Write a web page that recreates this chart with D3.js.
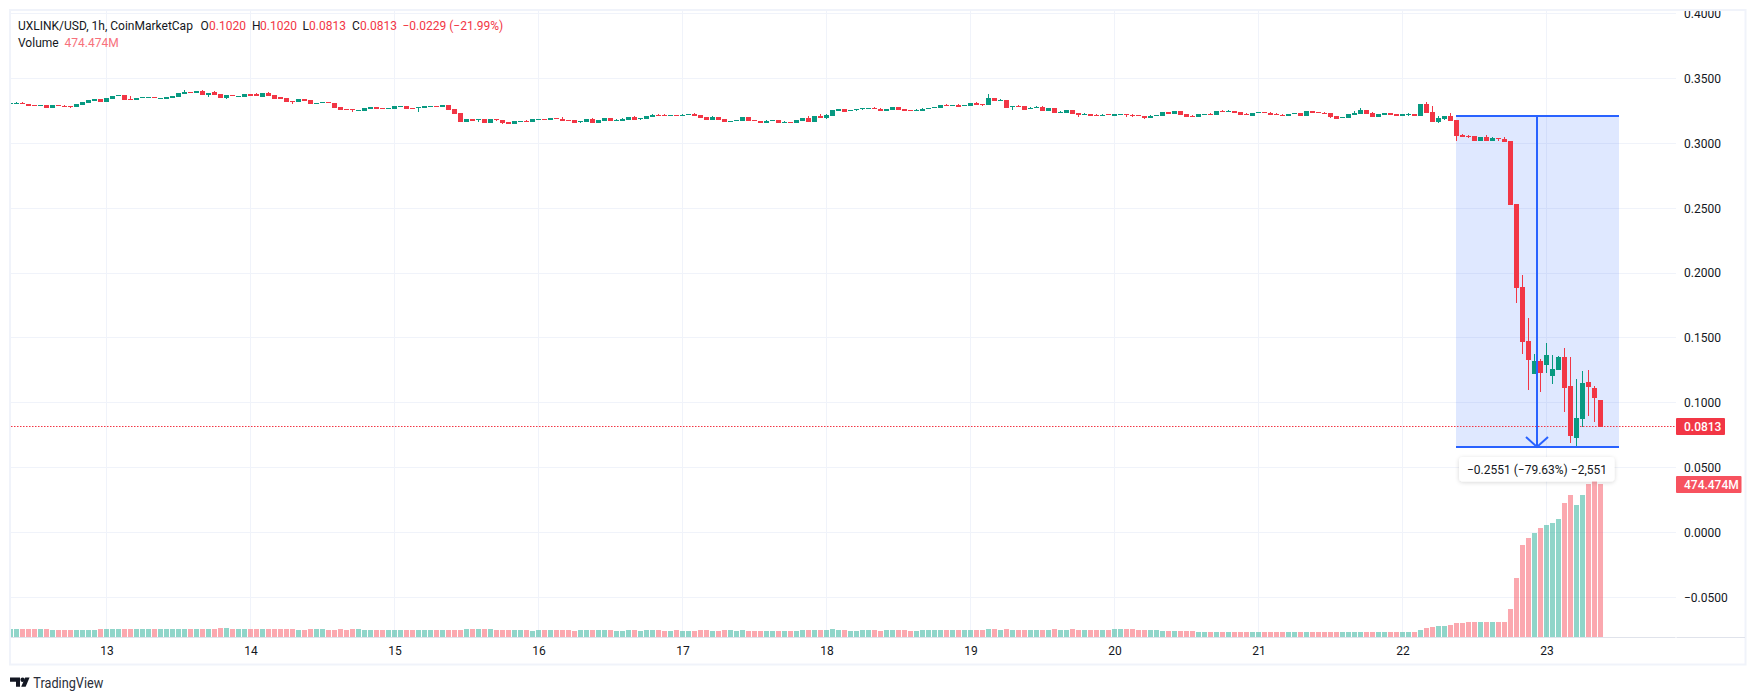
<!DOCTYPE html>
<html>
<head>
<meta charset="utf-8">
<script src="https://cdn.jsdelivr.net/npm/d3@7/dist/d3.min.js"></script>
<style>
html,body{margin:0;padding:0;background:#fff;}
svg{display:block;}
text{font-family:Roboto,"Liberation Sans",sans-serif;}
</style>
</head>
<body>
<svg width="1756" height="700"></svg>
<script>
// one candle per hour, 12 -> 23
var opens = [
.3304,.3304,.3312,.3304,.3297,.3289,.3297,.3273,.3297,.3289,
.3289,.3281,.3297,.3312,.3327,.3343,.3320,.3343,.3366,.3373,
.3343,.3335,.3350,.3350,.3358,.3343,.3343,.3350,.3358,.3381,
.3397,.3389,.3404,.3373,.3396,.3381,.3350,.3373,.3358,.3358,
.3381,.3381,.3358,.3389,.3373,.3358,.3350,.3327,.3320,.3343,
.3335,.3304,.3312,.3320,.3312,.3281,.3266,.3266,.3250,.3250,
.3266,.3281,.3273,.3266,.3266,.3281,.3289,.3273,.3273,.3273,
.3281,.3289,.3281,.3297,.3266,.3235,.3165,.3189,.3181,.3189,
.3158,.3189,.3181,.3165,.3150,.3165,.3173,.3165,.3181,.3189,
.3181,.3196,.3189,.3181,.3181,.3165,.3165,.3189,.3158,.3173,
.3196,.3173,.3173,.3181,.3204,.3189,.3189,.3204,.3219,.3219,
.3212,.3219,.3212,.3219,.3227,.3219,.3204,.3181,.3204,.3189,
.3165,.3173,.3173,.3204,.3181,.3173,.3158,.3173,.3181,.3158,
.3165,.3158,.3173,.3196,.3165,.3212,.3196,.3212,.3250,.3266,
.3250,.3258,.3266,.3266,.3273,.3266,.3250,.3258,.3281,.3266,
.3258,.3250,.3250,.3266,.3273,.3273,.3297,.3289,.3297,.3289,
.3289,.3312,.3304,.3297,.3350,.3327,.3335,.3281,.3289,.3289,
.3266,.3273,.3281,.3250,.3273,.3235,.3235,.3258,.3235,.3219,
.3227,.3219,.3212,.3227,.3212,.3219,.3227,.3219,.3219,.3212,
.3196,.3212,.3212,.3243,.3227,.3250,.3227,.3212,.3204,.3219,
.3227,.3219,.3250,.3243,.3250,.3243,.3227,.3212,.3235,.3243,
.3235,.3227,.3219,.3212,.3227,.3235,.3212,.3250,.3243,.3235,
.3235,.3212,.3196,.3196,.3219,.3227,.3258,.3235,.3204,.3219,
.3235,.3227,.3212,.3219,.3227,.3212,.3304,.3243,.3165,.3189,
.3212,.3181,.3065,.3057,.3057,.3019,.3050,.3019,.3042,.3034,
.3019,.2533,.1893,.1477,.1223,.1323,.1292,.1207,.1253,.1354,
.1130,.0729,.0876,.1161,.1114,.1020];
var closes = [
.3312,.3312,.3304,.3289,.3289,.3297,.3273,.3297,.3289,.3281,
.3281,.3304,.3320,.3335,.3343,.3320,.3350,.3366,.3373,.3335,
.3335,.3350,.3358,.3358,.3350,.3350,.3358,.3366,.3389,.3396,
.3389,.3404,.3373,.3389,.3373,.3350,.3373,.3366,.3366,.3381,
.3366,.3366,.3389,.3366,.3343,.3343,.3320,.3320,.3343,.3327,
.3304,.3312,.3320,.3312,.3273,.3258,.3258,.3258,.3258,.3273,
.3281,.3266,.3266,.3273,.3289,.3289,.3266,.3266,.3281,.3289,
.3289,.3281,.3297,.3258,.3227,.3165,.3189,.3173,.3189,.3158,
.3189,.3181,.3158,.3150,.3173,.3173,.3165,.3189,.3189,.3181,
.3196,.3189,.3173,.3173,.3158,.3173,.3189,.3158,.3181,.3196,
.3173,.3181,.3189,.3204,.3181,.3196,.3212,.3219,.3212,.3212,
.3219,.3212,.3219,.3227,.3212,.3196,.3181,.3204,.3181,.3165,
.3173,.3181,.3204,.3173,.3173,.3158,.3173,.3181,.3158,.3165,
.3158,.3181,.3196,.3165,.3212,.3196,.3219,.3258,.3266,.3243,
.3258,.3266,.3273,.3273,.3266,.3250,.3266,.3281,.3258,.3250,
.3250,.3258,.3266,.3273,.3281,.3297,.3289,.3297,.3281,.3297,
.3312,.3297,.3297,.3350,.3327,.3335,.3273,.3289,.3281,.3258,
.3273,.3281,.3250,.3273,.3235,.3243,.3258,.3227,.3219,.3227,
.3212,.3212,.3219,.3219,.3227,.3227,.3219,.3212,.3212,.3196,
.3212,.3219,.3243,.3227,.3250,.3219,.3204,.3204,.3227,.3227,
.3219,.3250,.3243,.3250,.3235,.3219,.3219,.3235,.3243,.3235,
.3219,.3219,.3212,.3227,.3235,.3212,.3250,.3235,.3235,.3227,
.3204,.3189,.3204,.3227,.3235,.3258,.3227,.3204,.3227,.3235,
.3219,.3212,.3227,.3227,.3212,.3304,.3235,.3165,.3196,.3212,
.3173,.3057,.3050,.3050,.3019,.3050,.3019,.3042,.3034,.3011,
.2525,.1886,.1469,.1331,.1323,.1230,.1369,.1261,.1354,.1114,
.0744,.0883,.1153,.1122,.1037,.0813];
var highs = [
.3312,.3320,.3320,.3304,.3297,.3297,.3297,.3297,.3297,.3297,
.3289,.3304,.3320,.3335,.3343,.3343,.3350,.3366,.3373,.3373,
.3366,.3350,.3358,.3358,.3358,.3350,.3358,.3366,.3389,.3412,
.3397,.3404,.3412,.3389,.3404,.3381,.3373,.3373,.3366,.3381,
.3381,.3389,.3389,.3396,.3373,.3358,.3350,.3327,.3343,.3343,
.3335,.3312,.3320,.3320,.3312,.3281,.3266,.3266,.3258,.3273,
.3281,.3281,.3273,.3273,.3289,.3289,.3289,.3273,.3281,.3289,
.3289,.3289,.3297,.3297,.3266,.3235,.3189,.3189,.3189,.3189,
.3189,.3189,.3181,.3165,.3173,.3173,.3181,.3189,.3189,.3189,
.3196,.3196,.3204,.3181,.3181,.3173,.3189,.3196,.3181,.3196,
.3196,.3189,.3196,.3204,.3212,.3196,.3212,.3227,.3227,.3227,
.3219,.3219,.3227,.3227,.3235,.3219,.3204,.3212,.3204,.3189,
.3173,.3181,.3204,.3204,.3181,.3173,.3181,.3181,.3181,.3173,
.3165,.3181,.3196,.3212,.3212,.3227,.3227,.3258,.3266,.3266,
.3258,.3266,.3273,.3273,.3281,.3273,.3266,.3281,.3281,.3266,
.3258,.3266,.3273,.3273,.3281,.3297,.3304,.3297,.3304,.3297,
.3312,.3320,.3304,.3381,.3350,.3343,.3335,.3289,.3297,.3289,
.3281,.3289,.3289,.3273,.3273,.3250,.3258,.3258,.3235,.3235,
.3227,.3227,.3227,.3227,.3227,.3227,.3227,.3227,.3219,.3212,
.3219,.3219,.3243,.3243,.3250,.3250,.3227,.3219,.3227,.3227,
.3235,.3250,.3258,.3258,.3250,.3243,.3235,.3235,.3243,.3243,
.3243,.3235,.3227,.3227,.3235,.3235,.3250,.3250,.3243,.3243,
.3235,.3212,.3204,.3227,.3250,.3273,.3258,.3243,.3227,.3235,
.3235,.3227,.3227,.3235,.3227,.3304,.3320,.3289,.3212,.3212,
.3235,.3181,.3073,.3065,.3057,.3050,.3065,.3050,.3042,.3050,
.3019,.2533,.1986,.1654,.1377,.1338,.1462,.1369,.1361,.1423,
.1354,.1184,.1246,.1253,.1130,.1020];
var lows = [
.3304,.3304,.3304,.3289,.3289,.3289,.3273,.3273,.3289,.3281,
.3273,.3281,.3297,.3312,.3327,.3320,.3320,.3343,.3366,.3335,
.3335,.3335,.3350,.3350,.3350,.3343,.3343,.3350,.3358,.3381,
.3389,.3389,.3373,.3358,.3373,.3350,.3343,.3366,.3358,.3358,
.3366,.3366,.3358,.3366,.3343,.3343,.3320,.3304,.3320,.3327,
.3304,.3304,.3312,.3312,.3273,.3258,.3258,.3243,.3250,.3250,
.3266,.3266,.3266,.3266,.3266,.3281,.3266,.3266,.3243,.3273,
.3281,.3281,.3281,.3258,.3227,.3165,.3165,.3173,.3165,.3158,
.3158,.3173,.3150,.3150,.3150,.3165,.3165,.3165,.3181,.3181,
.3181,.3189,.3173,.3173,.3158,.3155,.3165,.3158,.3158,.3173,
.3173,.3173,.3173,.3181,.3181,.3181,.3189,.3204,.3212,.3212,
.3212,.3212,.3212,.3219,.3212,.3196,.3181,.3181,.3181,.3165,
.3165,.3173,.3173,.3173,.3173,.3158,.3158,.3173,.3158,.3158,
.3158,.3158,.3173,.3165,.3165,.3196,.3189,.3212,.3250,.3243,
.3250,.3250,.3258,.3266,.3266,.3250,.3250,.3258,.3258,.3250,
.3250,.3250,.3250,.3266,.3273,.3273,.3289,.3289,.3281,.3289,
.3289,.3297,.3292,.3297,.3327,.3327,.3273,.3258,.3281,.3258,
.3266,.3273,.3250,.3250,.3235,.3235,.3235,.3227,.3204,.3219,
.3212,.3212,.3212,.3219,.3212,.3219,.3204,.3204,.3212,.3189,
.3196,.3212,.3212,.3227,.3227,.3219,.3204,.3204,.3204,.3219,
.3219,.3219,.3243,.3243,.3235,.3219,.3219,.3212,.3235,.3235,
.3219,.3219,.3212,.3212,.3227,.3212,.3212,.3235,.3235,.3227,
.3196,.3189,.3196,.3196,.3219,.3227,.3227,.3204,.3204,.3219,
.3219,.3212,.3212,.3212,.3212,.3212,.3235,.3165,.3158,.3181,
.3173,.3019,.3050,.3042,.3019,.3019,.3019,.3019,.3019,.3011,
.2525,.1770,.1377,.1099,.1223,.1084,.1230,.1145,.1253,.0929,
.0690,.0657,.0814,.0899,.0852,.0813];
// volume, millions
var volumes = [
25,25,25,25,25,25,25,22,22,22,
22,22,22,22,22,25,25,25,25,25,
25,25,25,25,25,25,25,25,25,25,
25,25,25,25,25,28,28,25,25,25,
25,25,25,25,25,24,24,25,22,22,
25,25,25,22,22,25,22,25,25,22,
22,22,22,22,22,22,22,22,22,22,
22,22,22,22,22,22,25,25,25,25,
25,22,21,21,22,21,21,20,21,21,
21,21,22,21,20,21,21,22,21,21,
21,20,20,21,21,20,21,22,21,20,
20,21,20,20,20,21,21,20,20,21,
21,20,21,20,19,20,20,20,20,19,
20,19,21,21,22,21,21,24,23,22,
20,20,21,21,21,20,21,21,22,21,
20,20,21,21,21,22,21,21,21,22,
22,21,21,26,24,22,25,23,22,23,
22,22,23,23,24,22,23,24,23,22,
22,22,23,23,24,24,24,24,23,23,
22,21,20,19,18,19,19,18,17,17,
16,17,16,16,16,16,16,15,15,15,
15,15,15,15,14,15,16,15,15,14,
15,15,14,14,14,15,15,15,14,14,
14,14,14.5,14.5,14.5,20.7,26.9,30,33,33,
36,42.4,42.4,45.5,45.5,45.5,45.5,45.5,45.5,45.5,
85.8,182,284,306,322,337,346,353,365,415,
440,408,440,474,486,474.474];

var priceTicks = [0.4,0.35,0.3,0.25,0.2,0.15,0.1,0.05,0,-0.05];
var dayLabels = [13,14,15,16,17,18,19,20,21,22,23];
var dayStarts = [16,40,64,88,112,136,160,184,208,232,256];

var lastPrice = 0.0813, lastVolume = 474.474;
var measureTop = 0.3212, measureBottom = 0.0661;
var measureFrom = 241, measureTo = 268;

var up = "#089981", down = "#f23645", blue = "#2962ff", grid = "#f0f3fa", ink = "#131722";

var plotL = 11, plotR = 1676, plotT = 11, plotB = 637;

var x = d3.scaleLinear().domain([0,265]).range([10.5,1600.5]);
var y = d3.scaleLinear().domain([0.4,-0.05]).range([13.76,597.3]);
var v = d3.scaleLinear().domain([0,474.474]).range([637,484]);

var svg = d3.select("svg");
var defs = svg.append("defs");
defs.append("clipPath").attr("id","plot").append("rect")
  .attr("x",plotL).attr("y",plotT).attr("width",plotR-plotL).attr("height",plotB-plotT);
var shadow = defs.append("filter").attr("id","tipshadow")
  .attr("x","-10%").attr("y","-30%").attr("width","120%").attr("height","170%");
shadow.append("feDropShadow").attr("dx",0).attr("dy",1).attr("stdDeviation",2)
  .attr("flood-color","#000").attr("flood-opacity",0.16);

// frame
svg.append("rect").attr("x",10).attr("y",10).attr("width",1735.5).attr("height",654.5)
  .attr("fill","none").attr("stroke",grid).attr("stroke-width",2);

var plot = svg.append("g").attr("clip-path","url(#plot)");

// grid
plot.selectAll(".hgrid").data(priceTicks).enter().append("line")
  .attr("x1",plotL).attr("x2",plotR)
  .attr("y1",function(d){return Math.floor(y(d))+0.5;})
  .attr("y2",function(d){return Math.floor(y(d))+0.5;})
  .attr("stroke",grid).attr("stroke-width",1);
plot.selectAll(".vgrid").data(dayStarts).enter().append("line")
  .attr("x1",function(d){return x(d);}).attr("x2",function(d){return x(d);})
  .attr("y1",plotT).attr("y2",plotB)
  .attr("stroke",grid).attr("stroke-width",1);

// volume
plot.selectAll(".vol").data(volumes).enter().append("rect")
  .attr("x",function(d,i){return x(i)-2.5;})
  .attr("y",function(d){return Math.round(v(d));})
  .attr("width",5)
  .attr("height",function(d){return plotB-Math.round(v(d));})
  .attr("fill",function(d,i){return closes[i]>=opens[i]?"#22ab94":"#f7525f";})
  .attr("opacity",0.5)
  .attr("shape-rendering","crispEdges");

// measure box
var boxL = Math.floor(x(measureFrom)), boxR = Math.ceil(x(measureTo));
var boxT = Math.round(y(measureTop)), boxB = Math.round(y(measureBottom));
plot.append("rect")
  .attr("x",boxL).attr("y",boxT)
  .attr("width",boxR-boxL)
  .attr("height",boxB-boxT)
  .attr("fill",blue).attr("fill-opacity",0.15);

// last price line
plot.append("line").attr("x1",plotL).attr("x2",plotR)
  .attr("y1",Math.round(y(lastPrice))-0.5).attr("y2",Math.round(y(lastPrice))-0.5)
  .attr("stroke",down).attr("stroke-width",1).attr("stroke-dasharray","1.5 1.5");

// candles
var indexes = d3.range(opens.length);
plot.selectAll(".wick").data(indexes).enter().append("rect")
  .attr("x",function(i){return x(i)-0.5;})
  .attr("y",function(i){return Math.round(y(highs[i]));})
  .attr("width",1)
  .attr("height",function(i){return Math.max(1,Math.round(y(lows[i]))-Math.round(y(highs[i])));})
  .attr("fill",function(i){return closes[i]>=opens[i]?up:down;})
  .attr("shape-rendering","crispEdges");
plot.selectAll(".body").data(indexes).enter().append("rect")
  .attr("x",function(i){return x(i)-2.5;})
  .attr("y",function(i){return Math.round(y(Math.max(opens[i],closes[i])));})
  .attr("width",5)
  .attr("height",function(i){return Math.max(1,Math.round(y(Math.min(opens[i],closes[i])))-Math.round(y(Math.max(opens[i],closes[i]))));})
  .attr("fill",function(i){return closes[i]>=opens[i]?up:down;})
  .attr("shape-rendering","crispEdges");

// measure lines
var midX = Math.floor((boxL+boxR)/2);
var measure = plot.append("g").attr("stroke",blue).attr("stroke-width",2).attr("fill","none");
measure.append("line").attr("x1",boxL).attr("x2",boxR).attr("y1",boxT).attr("y2",boxT);
measure.append("line").attr("x1",boxL).attr("x2",boxR).attr("y1",boxB).attr("y2",boxB);
measure.append("line").attr("x1",midX).attr("x2",midX).attr("y1",boxT).attr("y2",boxB);
measure.append("path").attr("d",d3.line()([[midX-11,boxB-10],[midX,boxB],[midX+11,boxB-10]]));

// measure tooltip
plot.append("rect").attr("x",1459).attr("y",457).attr("width",155.5).attr("height",24.5).attr("rx",4)
  .attr("fill","#fff").attr("filter","url(#tipshadow)");
plot.append("text").attr("x",1537).attr("y",473.5).attr("text-anchor","middle")
  .attr("font-size",12).attr("fill",ink).text("\u22120.2551 (\u221279.63%) \u22122,551");

// axis separators
svg.append("line").attr("x1",plotL).attr("x2",plotR-0.5).attr("y1",637.5).attr("y2",637.5).attr("stroke","#e0e3eb");
svg.append("line").attr("x1",plotR+0.5).attr("x2",1745).attr("y1",637.5).attr("y2",637.5).attr("stroke","#e0e3eb");

// axes
var yAxis = d3.axisRight(y).tickValues(priceTicks).tickSize(0).tickPadding(8).tickFormat(d3.format(".4f"));
var yg = svg.append("g").attr("transform","translate("+plotR+",0)").call(yAxis);
yg.select(".domain").remove();
yg.selectAll("text").attr("font-family","Roboto").attr("font-size",12).attr("fill",ink);

var xAxis = d3.axisBottom(x).tickValues(dayStarts).tickSize(0).tickPadding(9)
  .tickFormat(function(d,i){return dayLabels[i];});
var xg = svg.append("g").attr("transform","translate(0,"+plotB+")").call(xAxis);
xg.select(".domain").remove();
xg.selectAll("text").attr("font-family","Roboto").attr("font-size",12).attr("fill",ink);

// white cover so the clipped 0.4000 label stops at the frame
svg.append("rect").attr("x",plotR).attr("y",0).attr("width",70).attr("height",9).attr("fill","#fff");
svg.append("rect").attr("x",plotR).attr("y",9).attr("width",69).attr("height",2).attr("fill",grid);

// price tags
svg.append("rect").attr("x",plotR).attr("y",418).attr("width",49).attr("height",17).attr("rx",1).attr("fill",down);
svg.append("text").attr("x",1684).attr("y",431).attr("font-size",12).attr("font-weight",500).attr("fill","#fff").text(d3.format(".4f")(lastPrice));
svg.append("rect").attr("x",plotR).attr("y",476).attr("width",65.5).attr("height",17).attr("rx",1).attr("fill","#f7525f");
svg.append("text").attr("x",1684).attr("y",489).attr("font-size",12).attr("font-weight",500).attr("fill","#fff").text(d3.format(".3f")(lastVolume)+"M");

// legend
var legend = [
  [18,"UXLINK/USD, 1h, CoinMarketCap",ink],
  [200.5,"O",ink],[209,"0.1020",down],
  [252,"H",ink],[260,"0.1020",down],
  [302.5,"L",ink],[309,"0.0813",down],
  [352,"C",ink],[360,"0.0813",down],
  [402.5,"\u22120.0229 (\u221221.99%)",down]
];
svg.selectAll(".legend").data(legend).enter().append("text")
  .attr("x",function(d){return d[0];}).attr("y",29.5)
  .attr("font-size",12).attr("fill",function(d){return d[2];})
  .text(function(d){return d[1];});
svg.append("text").attr("x",18).attr("y",46.5).attr("font-size",12).attr("fill",ink).text("Volume");
svg.append("text").attr("x",64.5).attr("y",46.5).attr("font-size",12).attr("fill","#f7707b").text(d3.format(".3f")(lastVolume)+"M");

// TradingView logo
var logo = svg.append("g").attr("fill",ink);
logo.append("path").attr("d","M10 677.5H20V686.7H16V681.7H10Z");
logo.append("circle").attr("cx",22.6).attr("cy",679.8).attr("r",2.2);
logo.append("path").attr("d","M25.2 677.5H29.6L25.6 686.7H21.2Z");
svg.append("text").attr("x",33.3).attr("y",687.5).attr("font-size",14).attr("fill","#2a2e39")
  .attr("textLength",70).attr("lengthAdjust","spacingAndGlyphs").text("TradingView");
</script>
</body>
</html>
